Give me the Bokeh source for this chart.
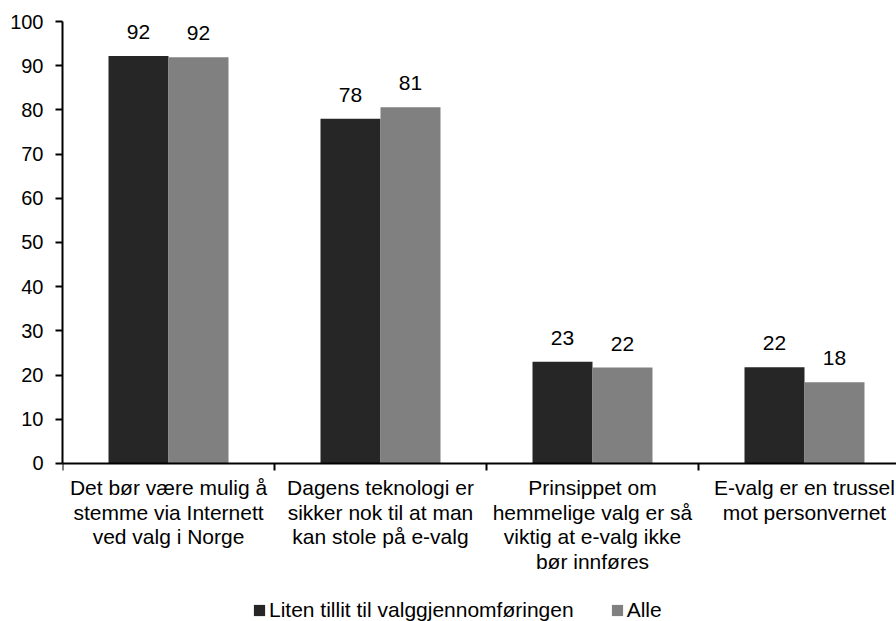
from bokeh.plotting import figure
from bokeh.models import (ColumnDataSource, Range1d, FixedTicker, Legend, LegendItem)
from bokeh.core.properties import value
from bokeh.embed import file_html
from bokeh.resources import INLINE

# ---- data ----
categories = [
    "Det bør være mulig å\nstemme via Internett\nved valg i Norge",
    "Dagens teknologi er\nsikker nok til at man\nkan stole på e-valg",
    "Prinsippet om\nhemmelige valg er så\nviktig at e-valg ikke\nbør innføres",
    "E-valg er en trussel\nmot personvernet",
]
series_names = ["Liten tillit til valggjennomføringen", "Alle"]
low_trust = [92.2, 78.0, 23.0, 21.8]
everyone = [91.9, 80.6, 21.7, 18.4]
y_ticks = [0, 10, 20, 30, 40, 50, 60, 70, 80, 90, 100]

FONT = "Liberation Sans"
DARK = "#262626"
GRAY = "#808080"

centers = [i + 0.5 for i in range(len(categories))]
bar_w = 0.283

p = figure(width=896, height=621, output_backend="svg", toolbar_location=None,
           x_range=Range1d(0, 3.934), y_range=Range1d(-35.75, 100),
           min_border_left=62, min_border_right=0, min_border_top=21,
           min_border_bottom=0)
p.outline_line_color = None
p.xgrid.visible = False
p.ygrid.visible = False
p.background_fill_color = "white"
p.border_fill_color = "white"

src1 = ColumnDataSource(dict(x=[c - bar_w / 2 for c in centers], top=low_trust,
                             lab=[f"{v:.0f}" for v in low_trust]))
src2 = ColumnDataSource(dict(x=[c + bar_w / 2 for c in centers], top=everyone,
                             lab=[f"{v:.0f}" for v in everyone]))

r1 = p.vbar(x="x", top="top", bottom=0, width=bar_w, source=src1,
            fill_color=DARK, line_color=None)
r2 = p.vbar(x="x", top="top", bottom=0, width=bar_w, source=src2,
            fill_color=GRAY, line_color=None)

for s in (src1, src2):
    p.text(x="x", y="top", text="lab", source=s, text_align="center",
           text_baseline="alphabetic", y_offset=-24, text_font=value(FONT),
           text_font_size="21px", text_color="black")

# y axis
ya = p.yaxis[0]
ya.ticker = FixedTicker(ticks=y_ticks)
ya.bounds = (0, 100)
ya.major_tick_out = 7
ya.major_tick_in = 0
ya.minor_tick_out = 0
ya.minor_tick_in = 0
ya.axis_line_width = 2
ya.major_tick_line_width = 2
ya.axis_line_color = "black"
ya.major_tick_line_color = "black"
ya.major_label_text_font = FONT
ya.major_label_text_font_size = "20px"
ya.major_label_text_color = "black"
ya.major_label_standoff = 12

# x axis
xa = p.xaxis[0]
xa.fixed_location = 0
xa.ticker = FixedTicker(ticks=centers, minor_ticks=[0, 1, 2, 3, 4])
xa.major_label_overrides = {c: lab for c, lab in zip(centers, categories)}
xa.major_tick_out = 0
xa.major_tick_in = 0
xa.minor_tick_out = 7
xa.minor_tick_in = 0
xa.minor_tick_line_color = "black"
xa.minor_tick_line_width = 2
xa.axis_line_width = 2
xa.axis_line_color = "black"
xa.major_label_text_font = FONT
xa.major_label_text_font_size = "21px"
xa.major_label_text_color = "black"
xa.major_label_text_line_height = 1.06
xa.major_label_standoff = 6

legend = Legend(items=[LegendItem(label=series_names[0], renderers=[r1]),
                       LegendItem(label=series_names[1], renderers=[r2])],
                orientation="horizontal", location=(190, -1),
                padding=0, margin=0, spacing=36, label_standoff=3,
                glyph_width=14, glyph_height=14, label_height=24,
                label_text_font=FONT, label_text_font_size="21px",
                label_text_color="black",
                border_line_color=None, background_fill_alpha=0)
p.add_layout(legend, "center")

open("out.html", "w").write(file_html(p, INLINE))
